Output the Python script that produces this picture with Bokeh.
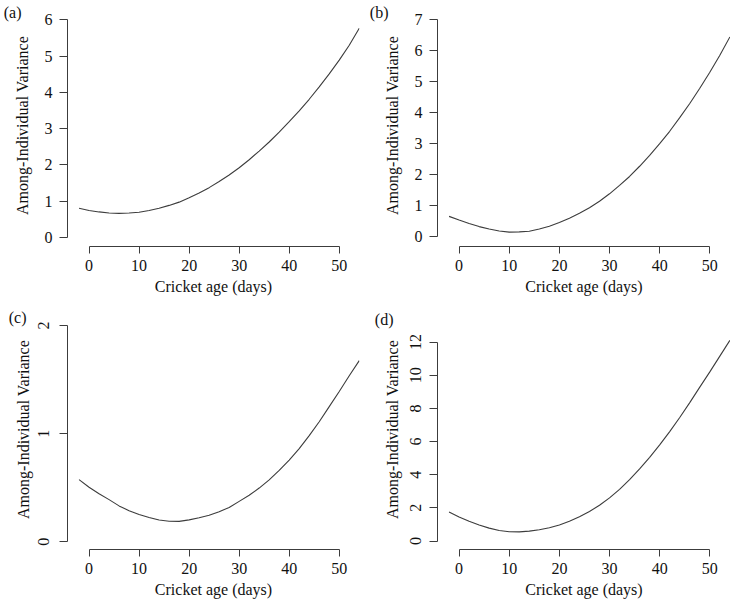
from bokeh.plotting import figure
from bokeh.layouts import gridplot
from bokeh.models import FixedTicker, LinearAxis
from bokeh.embed import file_html
from bokeh.resources import INLINE

# ---- data ----
ages = [-2, 0, 2, 4, 6, 8, 10, 12, 14, 16, 18, 20, 22, 24, 26, 28,
        30, 32, 34, 36, 38, 40, 42, 44, 46, 48, 50, 52, 54]
var_a = [0.80, 0.74, 0.70, 0.67, 0.66, 0.67, 0.69, 0.74, 0.80, 0.88, 0.97, 1.09, 1.22, 1.37, 1.54,
         1.72, 1.92, 2.14, 2.38, 2.63, 2.90, 3.19, 3.49, 3.81, 4.15, 4.51, 4.89, 5.30, 5.77]
var_b = [0.65, 0.53, 0.42, 0.32, 0.24, 0.18, 0.14, 0.15, 0.17, 0.24, 0.33, 0.45, 0.59, 0.75, 0.93,
         1.14, 1.38, 1.65, 1.94, 2.27, 2.62, 3.00, 3.40, 3.84, 4.30, 4.79, 5.31, 5.86, 6.45]
var_c = [0.575, 0.505, 0.445, 0.39, 0.332, 0.288, 0.253, 0.224, 0.201, 0.19, 0.189, 0.203, 0.222,
         0.245, 0.278, 0.318, 0.374, 0.43, 0.497, 0.573, 0.66, 0.756, 0.862, 0.982, 1.11, 1.25,
         1.39, 1.535, 1.675]
var_d = [1.75, 1.45, 1.19, 0.97, 0.78, 0.64, 0.56, 0.55, 0.60, 0.68, 0.80, 0.97, 1.19, 1.46, 1.78,
         2.16, 2.60, 3.12, 3.70, 4.35, 5.05, 5.80, 6.60, 7.45, 8.35, 9.28, 10.2, 11.15, 12.1]

x_ticks = [0, 10, 20, 30, 40, 50]
yticks_a = [0, 1, 2, 3, 4, 5, 6]
yticks_b = [0, 1, 2, 3, 4, 5, 6, 7]
yticks_c = [0, 1, 2]
yticks_d = [0, 2, 4, 6, 8, 10, 12]

panel_labels = ["(a)", "(b)", "(c)", "(d)"]
x_title = "Cricket age (days)"
y_title = "Among-Individual Variance"

# ---- layout (reference pixel geometry) ----
W, H = 365, 300
FONT = "Liberation Serif"
FS = "16px"
INK = "#3c3c3c"
TXT = "#111111"


def make_panel(label, xs, ys, yticks, g, rotated, lab_y, lab_standoff, ylab_standoff, ytick_standoff):
    axL, frR, frT, axB, x0, x50, y0, yT = g
    ytop = yticks[-1]
    xs_px = (x50 - x0) / 50.0
    ys_px = (y0 - yT) / ytop
    x_start = (axL - x0) / xs_px
    x_end = (frR - x0) / xs_px
    y_start = -(axB - y0) / ys_px
    y_end = (y0 - frT) / ys_px

    p = figure(width=W, height=H, x_range=(x_start, x_end), y_range=(y_start, y_end),
               output_backend="svg", toolbar_location=None, title=None,
               min_border_left=int(round(axL)), min_border_right=int(round(W - frR)),
               min_border_top=int(round(frT)), min_border_bottom=int(round(H - axB)))
    p.outline_line_color = None
    p.grid.visible = False
    p.background_fill_color = "white"
    p.border_fill_color = "white"

    p.line(xs, ys, line_color=INK, line_width=1.1)

    xa = p.xaxis[0]
    xa.bounds = (0, 50)
    xa.ticker = FixedTicker(ticks=x_ticks)
    xa.minor_tick_line_color = None
    xa.major_tick_in = 0
    xa.major_tick_out = 7
    xa.axis_line_color = INK
    xa.major_tick_line_color = INK
    xa.major_label_text_font = FONT
    xa.major_label_text_font_size = FS
    xa.major_label_text_color = TXT
    xa.major_label_standoff = 6
    xa.axis_label = x_title
    xa.axis_label_text_font = FONT
    xa.axis_label_text_font_size = FS
    xa.axis_label_text_font_style = "normal"
    xa.axis_label_text_color = TXT
    xa.axis_label_standoff = 4

    ya = p.yaxis[0]
    ya.bounds = (0, ytop)
    ya.ticker = FixedTicker(ticks=yticks)
    ya.minor_tick_line_color = None
    ya.major_tick_in = 0
    ya.major_tick_out = 8
    ya.axis_line_color = INK
    ya.major_tick_line_color = INK
    ya.major_label_text_font = FONT
    ya.major_label_text_font_size = FS
    ya.major_label_text_color = TXT
    ya.major_label_standoff = ytick_standoff
    if rotated:
        ya.major_label_orientation = "vertical"
    ya.axis_label = y_title
    ya.axis_label_text_font = FONT
    ya.axis_label_text_font_size = FS
    ya.axis_label_text_font_style = "normal"
    ya.axis_label_text_color = TXT
    ya.axis_label_standoff = ylab_standoff

    # panel letter: an unticked outer axis whose single label sits at the letter's height
    ly = round((y0 - lab_y) / ys_px, 4)
    la = LinearAxis(ticker=FixedTicker(ticks=[ly]), major_label_overrides={ly: label},
                    axis_line_color=None, major_tick_line_color=None, minor_tick_line_color=None,
                    major_tick_in=0, major_tick_out=0, major_label_standoff=lab_standoff,
                    major_label_text_font=FONT, major_label_text_font_size=FS,
                    major_label_text_color=TXT)
    p.add_layout(la, "left")
    return p


geo_a = (66.7, 359.3, 4.3, 245.7, 88.3, 339.0, 236.5, 19.7)
geo_b = (71.7, 365.0, 4.3, 246.3, 93.3, 344.3, 236.3, 19.7)
geo_c = (66.7, 359.3, 9.0, 249.7, 88.3, 339.0, 242.0, 25.0)
geo_d = (71.7, 365.0, 9.0, 250.0, 93.3, 344.3, 241.5, 41.7)

pa = make_panel(panel_labels[0], ages, var_a, yticks_a, geo_a, False, 5.0, -11, 11, 7)
pb = make_panel(panel_labels[1], ages, var_b, yticks_b, geo_b, False, 5.5, -8, 11, 7)
pc = make_panel(panel_labels[2], ages, var_c, yticks_c, geo_c, True, 17.0, -15, 4, 10)
pd = make_panel(panel_labels[3], ages, var_d, yticks_d, geo_d, True, 19.5, -13, 7, 8)

grid = gridplot([[pa, pb], [pc, pd]], toolbar_location=None)

open("out.html", "w").write(file_html(grid, INLINE))
